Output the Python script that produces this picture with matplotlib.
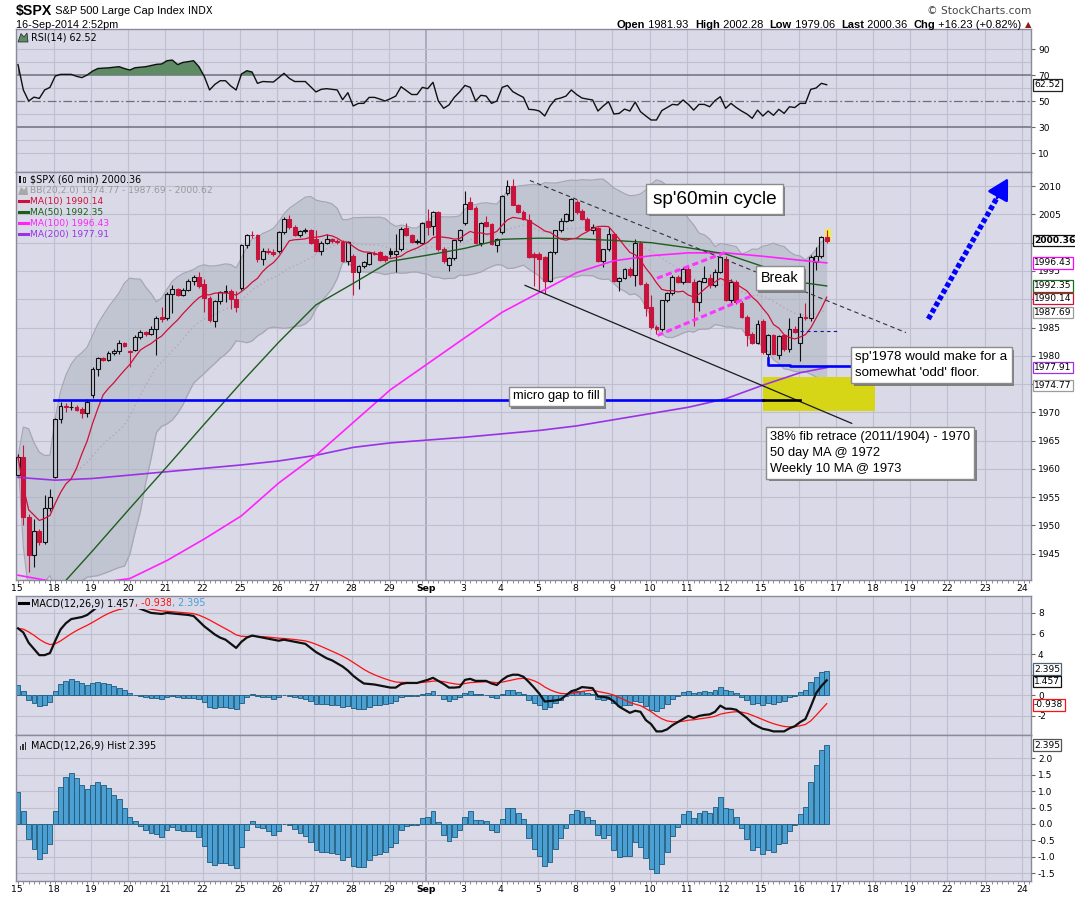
import numpy as np
import pandas as pd
import matplotlib
matplotlib.use("Agg")
import matplotlib.pyplot as plt
from matplotlib.patches import Rectangle, Polygon
from matplotlib.lines import Line2D
import matplotlib.patheffects as pe
import matplotlib.transforms as mtransforms

plt.rcParams['font.family'] = ['DejaVu Sans']

# ---------------- data (hourly bars, 7 per trading day) ----------------
day_labels = ['15', '18', '19', '20', '21', '22', '25', '26', '27', '28', '29', 'Sep',
              '3', '4', '5', '8', '9', '10', '11', '12', '15', '16', '17', '18', '19', '22', '23', '24']

opens = [1959.0, 1962.1, 1951.5, 1944.7, 1949.0, 1947.1, 1953.0,
         1958.6, 1968.9, 1971.2, 1970.9, 1971.0, 1970.6, 1969.9,
         1973.0, 1977.7, 1979.6, 1979.3, 1980.5, 1980.8, 1982.3,
         1980.9, 1981.0, 1983.3, 1984.2, 1983.9, 1984.8, 1986.8,
         1986.7, 1991.0, 1991.8, 1990.7, 1991.7, 1993.2, 1994.0,
         1992.7, 1990.2, 1986.1, 1989.6, 1991.3, 1991.5, 1990.1,
         1991.9, 1999.6, 2001.4, 2001.4, 1997.2, 1998.6, 1998.4,
         1998.6, 2001.9, 2004.2, 2002.8, 2001.4, 2002.0, 2002.3,
         2000.7, 1998.5, 2000.0, 2000.6, 2000.3, 2000.2, 1996.8,
         1997.6, 1994.8, 1995.8, 1996.2, 1998.1, 1998.3, 1997.6,
         1998.6, 1998.0, 1998.8, 2002.6, 2001.3, 2000.3, 2000.0,
         2003.9, 2003.0, 2005.4, 1998.8, 1996.0, 1997.3, 2000.4,
         2003.5, 2007.2, 2006.2, 2000.0, 2003.6, 2003.3, 1999.6,
         2001.9, 2008.8, 2010.0, 2006.7, 2005.5, 2004.1, 1998.0,
         1998.0, 1997.4, 1993.3, 1998.3, 2002.2, 2003.9, 2004.0,
         2007.2, 2005.6, 2004.2, 2002.3, 2002.6, 1996.7, 1998.8,
         2001.6, 1993.3, 1993.8, 1995.3, 1994.2, 2000.0, 1992.7,
         1988.6, 1985.1, 1984.8, 1989.8, 1991.1, 1993.9, 1993.0,
         1995.3, 1993.1, 1989.5, 1993.1, 1993.8, 1992.5, 1994.9,
         1997.1, 1989.8, 1993.0, 1989.3, 1986.9, 1983.8, 1982.3,
         1986.2, 1980.4, 1983.6, 1980.2, 1983.6, 1981.2, 1984.8,
         1982.2, 1986.9, 1986.6, 1996.6, 1997.6, 2001.0]
highs = [1962.7, 1964.2, 1952.0, 1951.2, 1949.4, 1955.3, 1956.5,
         1969.0, 1971.8, 1971.7, 1972.0, 1971.3, 1971.0, 1972.3,
         1978.0, 1979.8, 1979.8, 1980.8, 1981.2, 1982.8, 1982.5,
         1981.0, 1983.6, 1984.5, 1984.4, 1985.2, 1987.0, 1988.6,
         1991.3, 1992.5, 1992.0, 1992.0, 1993.6, 1994.2, 1994.8,
         1993.5, 1990.5, 1989.8, 1991.5, 1992.5, 1991.8, 1991.5,
         1999.8, 2001.5, 2002.0, 2001.6, 1999.0, 1999.0, 1998.8,
         2002.1, 2004.6, 2004.9, 2003.2, 2002.3, 2002.6, 2002.5,
         2002.2, 2000.3, 2001.5, 2000.9, 2000.6, 2000.4, 2000.3,
         1998.0, 1996.0, 1996.7, 1998.3, 1998.6, 1998.5, 1997.8,
         1999.0, 2001.6, 2002.8, 2003.4, 2001.5, 2000.7, 2003.6,
         2006.0, 2005.6, 2005.6, 1999.2, 1997.5, 2000.5, 2002.5,
         2009.2, 2008.0, 2006.5, 2003.6, 2004.8, 2003.4, 2000.8,
         2008.5, 2011.0, 2011.3, 2006.9, 2005.7, 2005.1, 1998.3,
         1998.3, 1997.6, 1998.6, 2002.3, 2004.4, 2005.2, 2007.9,
         2007.5, 2006.0, 2004.5, 2003.3, 2002.8, 1998.9, 2002.7,
         2001.8, 1993.9, 1995.5, 1995.7, 2000.7, 2000.3, 1993.0,
         1990.8, 1985.5, 1989.9, 1991.2, 1994.2, 1994.3, 1995.7,
         1995.8, 1993.5, 1993.4, 1995.8, 1994.5, 1995.3, 1997.7,
         1997.6, 1993.5, 1993.4, 1989.6, 1987.2, 1984.2, 1986.4,
         1986.5, 1983.8, 1983.9, 1983.7, 1983.9, 1986.6, 1985.2,
         1987.5, 1989.3, 1997.8, 1999.3, 2001.2, 2002.28]
lows = [1958.7, 1950.0, 1941.7, 1942.7, 1946.5, 1946.8, 1952.5,
        1958.3, 1968.2, 1970.0, 1970.5, 1970.2, 1969.0, 1969.2,
        1972.5, 1976.5, 1979.0, 1979.1, 1980.2, 1980.4, 1981.5,
        1978.0, 1980.8, 1983.0, 1983.5, 1983.7, 1980.1, 1986.0,
        1986.4, 1987.5, 1990.5, 1990.5, 1991.5, 1992.5, 1992.0,
        1987.7, 1986.0, 1985.1, 1989.2, 1989.5, 1988.3, 1987.7,
        1991.7, 1999.0, 2000.8, 1996.5, 1996.0, 1998.0, 1997.7,
        1998.2, 2001.5, 2002.5, 2001.2, 2001.0, 2001.7, 1999.8,
        1998.3, 1997.8, 1999.8, 2000.0, 1999.8, 1996.6, 1996.0,
        1990.7, 1991.8, 1995.5, 1996.0, 1997.8, 1996.8, 1996.6,
        1997.5, 1994.8, 1998.5, 2001.2, 2000.0, 1999.8, 1999.8,
        2001.3, 2001.3, 1998.6, 1996.4, 1995.0, 1997.0, 2000.1,
        2003.2, 2006.0, 1999.8, 1999.5, 2002.8, 1999.6, 1998.4,
        2001.5, 2008.4, 2006.6, 2005.2, 2004.0, 1997.3, 1992.4,
        1991.6, 1991.0, 1993.0, 1998.0, 2001.9, 2003.6, 2003.8,
        2005.1, 2004.1, 2002.1, 2001.6, 1996.5, 1995.7, 1998.5,
        1993.0, 1991.5, 1993.5, 1993.9, 1992.4, 1992.5, 1987.1,
        1984.8, 1983.9, 1984.3, 1989.5, 1990.8, 1992.8, 1992.7,
        1993.0, 1985.2, 1988.0, 1993.0, 1991.9, 1992.2, 1994.7,
        1989.6, 1989.3, 1989.2, 1986.6, 1981.8, 1982.0, 1982.0,
        1980.4, 1979.5, 1980.3, 1979.4, 1980.9, 1980.6, 1984.0,
        1979.06, 1986.3, 1986.2, 1995.2, 1997.3, 2000.0]
closes = [1962.1, 1951.5, 1944.7, 1949.0, 1947.1, 1953.0, 1955.0,
          1968.9, 1971.2, 1970.9, 1971.0, 1970.5, 1969.9, 1971.9,
          1977.7, 1979.6, 1979.3, 1980.5, 1980.8, 1982.3, 1981.8,
          1980.6, 1983.3, 1984.2, 1983.9, 1984.8, 1986.7, 1986.5,
          1990.9, 1991.8, 1990.7, 1991.7, 1993.2, 1994.0, 1992.4,
          1990.2, 1986.3, 1989.6, 1991.3, 1991.5, 1990.1, 1988.6,
          1999.6, 2001.4, 2001.3, 1997.2, 1998.6, 1998.4, 1998.0,
          2001.9, 2004.2, 2002.8, 2001.4, 2002.0, 2002.3, 2000.0,
          1998.5, 2000.0, 2000.6, 2000.3, 2000.1, 1996.8, 2000.1,
          1994.8, 1995.8, 1996.6, 1998.1, 1998.0, 1997.0, 1996.9,
          1998.0, 1998.6, 2002.5, 2001.3, 2000.1, 2000.1, 2003.4,
          2002.7, 2005.4, 1998.8, 1996.8, 1997.3, 2000.4, 2002.3,
          2006.9, 2006.0, 2000.0, 2003.5, 2003.0, 1999.8, 2000.7,
          2008.2, 2010.0, 2006.7, 2005.5, 2004.2, 1997.5, 1997.4,
          1997.2, 1993.3, 1998.3, 2002.2, 2003.9, 2005.1, 2007.7,
          2005.4, 2004.2, 2002.2, 2002.8, 1996.7, 1998.8, 2001.6,
          1993.3, 1993.8, 1995.3, 1994.2, 2000.0, 1992.7, 1988.4,
          1985.1, 1984.8, 1989.8, 1991.1, 1993.9, 1993.0, 1995.4,
          1993.1, 1989.5, 1993.3, 1993.8, 1992.5, 1994.9, 1997.5,
          1989.8, 1993.0, 1989.5, 1986.9, 1983.6, 1982.3, 1985.6,
          1980.6, 1983.6, 1980.4, 1983.5, 1981.2, 1984.8, 1984.2,
          1986.9, 1986.6, 1997.5, 1997.6, 2001.0, 2000.36]

rsi14 = [78, 58.5, 50, 53, 52, 58.5, 60.5,
         69.2, 70.5, 70.5, 70.5, 69, 68, 70,
         73, 75, 75.3, 75.5, 76, 76.4, 75,
         73.8, 75.6, 76, 76.4, 77.3, 78.2, 78.5,
         81, 81.5, 78, 79.7, 80.3, 81, 76.4,
         69, 58.5, 62.8, 65.6, 65.6, 61.5, 58.5,
         70.8, 73.3, 72.3, 63.6, 65, 64.8, 64.6,
         68, 71.3, 67.4, 65, 65, 65, 61,
         57, 59, 59.5, 59, 58.5, 51, 56.4,
         46.2, 48.2, 48.2, 52.8, 52.8, 51.5, 50,
         51.8, 53.8, 61, 58, 55, 55, 60.5,
         59.5, 64.4, 50, 44.4, 47, 52.8, 57,
         62, 60.5, 50, 54.4, 53.8, 48.2, 50,
         60.5, 62, 57.2, 54.9, 52.8, 43.6, 43.3,
         42.3, 38.5, 46.2, 51.3, 52.3, 53.8, 58.5,
         55, 52.3, 51.5, 50.8, 42.3, 46.2, 49.5,
         40, 40.5, 43.8, 42.3, 49.2, 41.8, 38.5,
         35.4, 35.4, 42.6, 45, 47.4, 47, 50.8,
         47.4, 43, 47.4, 47.4, 45.6, 50.3, 53.3,
         44.4, 48.2, 45, 42.3, 40, 36.7, 43,
         38.5, 42.3, 39, 43.6, 40.5, 45.6, 45,
         48.2, 48.2, 59, 60, 63.6, 62.52]

macd_line = [6.5, 6.1, 5.1, 4.5, 3.9, 3.9, 4.1,
             5.3, 6.4, 7.0, 7.4, 7.5, 7.6, 7.8,
             8.2, 8.6, 8.9, 9.0, 9.0, 9.0, 8.9,
             8.75, 8.6, 8.4, 8.2, 8.0, 7.95, 7.9,
             8.0, 7.95, 7.9, 7.85, 7.8, 7.7, 7.2,
             6.7, 6.3, 5.9, 5.6, 5.4, 5.0, 4.6,
             5.2, 5.6, 5.8, 5.7, 5.6, 5.5, 5.4,
             5.3, 5.4, 5.3, 5.2, 5.1, 5.0, 4.6,
             4.2, 3.9, 3.6, 3.4, 3.1, 2.8, 2.4,
             1.9, 1.5, 1.15, 1.1, 1.05, 0.95, 0.85,
             0.75, 0.75, 1.1, 1.2, 1.2, 1.2, 1.35,
             1.5, 1.7, 1.4, 1.1, 0.75, 0.75, 0.8,
             1.5, 1.6, 1.4, 1.4, 1.4, 1.15, 1.0,
             1.5, 1.85, 2.0, 2.0, 1.8, 1.3, 0.75,
             0.15, -0.6, -0.55, -0.5, -0.4, 0.0, 0.4,
             0.55, 0.8, 0.75, 0.7, -0.1, -0.15, -0.25,
             -0.6, -1.1, -1.4, -1.7, -1.5, -1.6, -2.4,
             -2.8, -3.5, -3.5, -3.3, -2.9, -2.6, -2.3,
             -2.0, -2.2, -2.0, -1.9, -1.85, -1.6, -1.0,
             -1.3, -1.3, -1.4, -1.8, -2.2, -2.7, -3.0,
             -3.25, -3.35, -3.5, -3.5, -3.5, -3.2, -3.0,
             -2.6, -2.3, -1.1, 0.2, 0.9, 1.457]

macd_hist = [0.96, 0.39, -0.46, -0.77, -1.07, -0.89, -0.62,
             0.39, 1.11, 1.43, 1.54, 1.41, 1.17, 1.05,
             1.17, 1.26, 1.17, 1.08, 0.87, 0.75, 0.5,
             0.2, 0.08, -0.05, -0.18, -0.28, -0.3, -0.38,
             -0.18, -0.1, -0.18, -0.22, -0.22, -0.22, -0.38,
             -0.67, -1.15, -1.24, -1.17, -1.17, -1.23, -1.33,
             -0.71, -0.18, 0.09, -0.08, -0.13, -0.21, -0.33,
             -0.21, -0.01, -0.03, -0.15, -0.28, -0.36, -0.55,
             -0.8, -0.85, -0.85, -0.89, -0.91, -1.09, -1.01,
             -1.27, -1.31, -1.31, -1.09, -0.95, -0.91, -0.84,
             -0.71, -0.57, -0.18, -0.05, -0.03, -0.03, 0.17,
             0.2, 0.38, 0.05, -0.34, -0.53, -0.4, -0.17,
             0.22, 0.38, 0.12, 0.12, 0.08, -0.17, -0.24,
             0.14, 0.5, 0.5, 0.34, 0.14, -0.43, -0.76,
             -0.98, -1.28, -1.15, -0.75, -0.42, -0.11, 0.3,
             0.42, 0.39, 0.21, 0.12, -0.33, -0.43, -0.33,
             -0.78, -0.99, -0.96, -0.96, -0.54, -0.69, -1.02,
             -1.38, -1.5, -1.2, -0.84, -0.36, -0.08, 0.3,
             0.39, 0.18, 0.33, 0.39, 0.33, 0.51, 0.81,
             0.48, 0.45, 0.21, -0.12, -0.47, -0.8, -0.7,
             -0.9, -0.78, -0.85, -0.61, -0.57, -0.2, -0.02,
             0.3, 0.51, 1.27, 1.8, 2.24, 2.395]

# long moving averages (one reading per trading-day start + last bar)
ma_bars = [0, 7, 14, 21, 28, 35, 42, 49, 56, 63, 70, 77, 84, 91, 98, 105, 112, 119, 126, 133, 140, 147, 152]
ma50 = [1931.0, 1938.2, 1945.5, 1953.0, 1960.4, 1967.9, 1975.3, 1982.4, 1989.0, 1992.8, 1996.7, 1997.8,
        1999.0, 2000.6, 2000.8, 2000.7, 2000.4, 2000.0, 1999.1, 1998.0, 1995.8, 1993.0, 1992.35]
ma100 = [1941.2, 1940.0, 1939.7, 1940.6, 1943.8, 1947.6, 1951.7, 1957.5, 1962.4, 1968.2, 1974.0, 1978.6,
         1983.2, 1987.7, 1991.2, 1994.7, 1996.8, 1997.7, 1998.2, 1998.2, 1997.6, 1996.9, 1996.43]
ma200 = [1958.5, 1958.0, 1958.3, 1958.9, 1959.5, 1960.1, 1960.7, 1961.4, 1962.4, 1963.8, 1964.6, 1965.1,
         1965.6, 1966.2, 1966.8, 1967.6, 1968.7, 1969.8, 1970.9, 1972.4, 1974.8, 1977.0, 1977.91]

# ---------------- figure / layout ----------------
W, H, DPI = 1075, 897, 100
fig = plt.figure(figsize=(W / DPI, H / DPI), dpi=DPI)
fig.patch.set_facecolor('white')


def frame(l, t, r, b):
    return [l / W, 1 - b / H, (r - l) / W, (b - t) / H]


BG = '#d9d9e7'
GRID = '#bfbfcf'
SPINE = '#8a8a9c'
RED = '#c8143c'
BLK = '#101010'
HISTC = '#4b9fd3'
HISTE = '#1d5a7a'

ax_r = fig.add_axes(frame(16, 29, 1031, 172))
ax_p = fig.add_axes(frame(16, 172, 1031, 580))
ax_m = fig.add_axes(frame(16, 596, 1031, 735))
ax_h = fig.add_axes(frame(16, 735, 1031, 881))

n = len(closes)
x = np.arange(n)
XL = (-0.38, 190.4)
day_pos = np.arange(len(day_labels)) * 7 - 0.3

for ax in (ax_r, ax_p, ax_m, ax_h):
    ax.set_facecolor(BG)
    ax.set_xlim(*XL)
    for s in ax.spines.values():
        s.set_color(SPINE)
        s.set_linewidth(1.0)
    for i, dp in enumerate(day_pos):
        month = day_labels[i] == 'Sep'
        ax.axvline(dp, color='#a4a4b6' if month else GRID, lw=1.2 if month else 0.8, zorder=0)
    ax.yaxis.tick_right()
    ax.tick_params(axis='y', which='major', labelsize=6.5, length=3, width=0.8,
                   color='#666670', pad=2, labelcolor='black')
    ax.set_xticks(day_pos)
    ax.set_xticks(np.arange(0, 191), minor=True)
    ax.tick_params(axis='x', which='major', length=0, pad=3, labelsize=6.7)
    ax.tick_params(axis='x', which='minor', length=2.2, width=0.6, color='#777780')

for ax in (ax_p, ax_h):
    ax.set_xticklabels(day_labels)
    for lab in ax.get_xticklabels():
        if lab.get_text() == 'Sep':
            lab.set_fontweight('bold')
for ax in (ax_r, ax_m):
    ax.tick_params(axis='x', which='both', length=0, labelbottom=False)

# ---------------- RSI panel ----------------
rsi = np.array(rsi14)
ax_r.set_ylim(-4.6, 105.4)
for g in (10, 20, 40, 60, 80, 90):
    ax_r.axhline(g, color=GRID, lw=0.8, zorder=0)
ax_r.axhline(70, color='#6e6e80', lw=1.1, zorder=1)
ax_r.axhline(30, color='#6e6e80', lw=1.1, zorder=1)
ax_r.axhline(50, color='#6e6e80', lw=0.9, ls=(0, (7, 2, 1.5, 2)), zorder=1)
ax_r.fill_between(x, 70, rsi, where=rsi >= 70, interpolate=True, color='#5e8a64', zorder=2, lw=0)
ax_r.plot(x, rsi, color=BLK, lw=1.0, zorder=3)
ax_r.set_yticks([10, 30, 50, 70, 90])

# ---------------- price panel ----------------
ax_p.set_ylim(1940.35, 2012.5)
price_ticks = np.arange(1945, 2011, 5)
for g in price_ticks:
    ax_p.axhline(g, color=GRID, lw=0.8, zorder=0)
ax_p.set_yticks(price_ticks)
# labels that the value tags cover in the reference are left blank
ax_p.set_yticklabels(['' if v in (2000, 1990, 1975) else str(v) for v in price_ticks])

cs = pd.Series(closes, dtype=float)
ma10 = cs.rolling(10, min_periods=1).mean()
mid20 = cs.rolling(20, min_periods=1).mean()
sd20 = cs.rolling(20, min_periods=1).std(ddof=0).fillna(0)
bb_up = mid20 + 2 * sd20
bb_lo = mid20 - 2 * sd20

ax_p.fill_between(x, bb_lo, bb_up, color='#aeb6c2', alpha=0.55, lw=0, zorder=1)
ax_p.plot(x, bb_up, color='#a6a6b4', lw=0.9, zorder=1.2)
ax_p.plot(x, bb_lo, color='#a6a6b4', lw=0.9, zorder=1.2)
ax_p.plot(x, mid20, color='#b9a4b9', lw=1.0, ls=(0, (1, 2)), zorder=1.3)

# yellow target zone
ax_p.add_patch(Rectangle((140.1, 1970.3), 21.0, 5.87, facecolor='#d6d616', edgecolor='none', zorder=1.5))
# highlight behind last bar
ax_p.add_patch(Rectangle((151.6, 2000.1), 1.2, 2.4, facecolor='#f2ee3a', edgecolor='none', zorder=3.5))

# candles
prev_close = [opens[0]] + closes[:-1]
for i in range(n):
    o, h, l, c = opens[i], highs[i], lows[i], closes[i]
    col = RED if c < prev_close[i] else BLK
    top, bot = max(o, c), min(o, c)
    ax_p.plot([i, i], [top, h], color=col, lw=0.8, zorder=4, solid_capstyle='butt')
    ax_p.plot([i, i], [l, bot], color=col, lw=0.8, zorder=4, solid_capstyle='butt')
    ax_p.add_patch(Rectangle((i - 0.36, bot), 0.72, max(top - bot, 0.07),
                             facecolor=col if c < o else 'none', edgecolor=col, lw=0.8, zorder=4))

# moving averages
ax_p.plot(ma_bars, ma200, color='#9a32e6', lw=1.2, zorder=5)
ax_p.plot(ma_bars, ma100, color='#ff22ff', lw=1.2, zorder=5)
ax_p.plot(ma_bars, ma50, color='#1d5e1d', lw=1.0, zorder=5)
ax_p.plot(x, ma10, color='#d0103a', lw=0.9, zorder=5)

# hand-drawn annotations (data units: bar index, price)
ax_p.plot([96.2, 166.9], [2011.0, 1984.1], color='#333333', lw=0.8, ls=(0, (4, 3)), zorder=6)
ax_p.plot([95.3, 156.7], [1992.45, 1968.05], color='#1a1a1a', lw=0.9, zorder=6)
ax_p.plot([120.1, 133.0], [1993.7, 1998.3], color='#ff33ff', lw=2.2, ls=(0, (2, 1.1)), zorder=6)
ax_p.plot([120.2, 138.2], [1983.6, 1990.7], color='#ff33ff', lw=2.2, ls=(0, (2, 1.1)), zorder=6)
ax_p.plot([147.0, 154.5], [1984.3, 1984.3], color='#1515a0', lw=0.8, ls=(0, (3, 3)), zorder=6)
ax_p.plot([141.0, 141.0, 145.1, 145.1, 156.7], [1979.6, 1978.45, 1978.45, 1978.2, 1978.2],
          color='#0000ff', lw=1.9, zorder=6)
ax_p.plot([6.77, 140.1], [1972.2, 1972.2], color='#0000ff', lw=1.9, zorder=6)
ax_p.plot([140.1, 147.0], [1972.2, 1972.2], color='#000000', lw=1.9, zorder=6)
ax_p.plot([171.1, 184.6], [1986.5, 2008.9], color='#0000ff', lw=3.8, ls=(0, (0.9, 0.5)),
          dash_capstyle='butt', zorder=7)
ax_p.annotate('', xy=(186.1, 2011.4), xytext=(184.0, 2007.9),
              arrowprops=dict(arrowstyle='-|>,head_length=0.9,head_width=0.5', color='#0000ff',
                              lw=2, mutation_scale=14, shrinkA=0, shrinkB=0), zorder=7)


def note(xb, yp, s, fs, ha='center', va='center', ls=1.3, pad=0.35):
    t = ax_p.text(xb, yp, s, ha=ha, va=va, fontsize=fs, family='Liberation Sans', color='black',
                  linespacing=ls, zorder=10,
                  bbox=dict(boxstyle='square,pad=%s' % pad, fc='white', ec='#8c8c8c', lw=1))
    t.get_bbox_patch().set_path_effects([pe.withSimplePatchShadow(offset=(1.6, -1.6),
                                                                  shadow_rgbFace='#777777', alpha=0.9)])
    return t


note(130.9, 2007.7, "sp'60min cycle", 13.7, pad=0.33)
note(143.2, 1993.7, "Break", 10.3, pad=0.35)
note(101.2, 1972.8, "micro gap to fill", 9.3, pad=0.3)
note(157.4, 1978.3, "sp'1978 would make for a\nsomewhat 'odd' floor.", 9.6, ha='left', ls=1.45, pad=0.3)
note(141.4, 1962.75, "38% fib retrace (2011/1904) - 1970\n50 day MA @ 1972\nWeekly 10 MA @ 1973", 9.3,
     ha='left', ls=1.45, pad=0.3)

# ---------------- MACD panel ----------------
mline = pd.Series(macd_line, dtype=float)
signal = mline.ewm(span=9, adjust=False).mean()
ax_m.set_ylim(-3.85, 9.64)
macd_ticks = [-2, 0, 2, 4, 6, 8]
for g in macd_ticks:
    ax_m.axhline(g, color=GRID, lw=0.8, zorder=0)
ax_m.set_yticks(macd_ticks)
ax_m.set_yticklabels(['' if v == 2 else str(v) for v in macd_ticks])
ax_m.bar(x, macd_hist, width=0.92, color=HISTC, edgecolor=HISTE, lw=0.6, zorder=2)
ax_m.plot(x, signal, color='#ff1010', lw=0.9, zorder=3)
ax_m.plot(x, mline, color=BLK, lw=1.6, zorder=4)

# ---------------- MACD histogram panel ----------------
ax_h.set_ylim(-1.73, 2.70)
hticks = np.arange(-1.5, 2.01, 0.5)
for g in hticks:
    ax_h.axhline(g, color=GRID, lw=0.8, zorder=0)
ax_h.set_yticks(hticks)
ax_h.set_yticklabels(['%.1f' % v for v in hticks])
ax_h.bar(x, macd_hist, width=0.92, color=HISTC, edgecolor=HISTE, lw=0.6, zorder=2)


# ---------------- right-edge value tags ----------------
def tag(ax, yv, s, ec, bold=False):
    tr = mtransforms.blended_transform_factory(ax.transAxes, ax.transData)
    ax.text(1.003, yv, s, transform=tr, ha='left', va='center', fontsize=6.6,
            fontweight='bold' if bold else 'normal', color='black', zorder=20, clip_on=False,
            bbox=dict(boxstyle='square,pad=0.14', fc='white', ec=ec, lw=0.9))


tag(ax_r, 62.52, '62.52', '#222222')
tag(ax_p, 2000.36, '2000.36', '#111111', bold=True)
tag(ax_p, 1996.43, '1996.43', '#ff00ff')
tag(ax_p, 1992.35, '1992.35', '#1d6e1d')
tag(ax_p, 1990.14, '1990.14', '#d0103a')
tag(ax_p, 1987.69, '1987.69', '#9c9c9c')
tag(ax_p, 1977.91, '1977.91', '#9a32e6')
tag(ax_p, 1974.77, '1974.77', '#9c9c9c')
tag(ax_m, 2.55, '2.395', '#4a6478')
tag(ax_m, 1.35, '1.457', '#111111')
tag(ax_m, -0.938, '-0.938', '#ff1010')
tag(ax_h, 2.395, '2.395', '#555555')

# ---------------- header and legends ----------------
renderer = fig.canvas.get_renderer()


def chain(x_px, y_px, parts, align='left', bg=None):
    objs, widths = [], []
    for s, kw in parts:
        extra = {}
        if bg is not None:
            extra['bbox'] = dict(boxstyle='square,pad=0.05', fc=bg, ec='none')
        t = fig.text(0, 1 - y_px / H, s, ha='left', va='center', **kw, **extra)
        objs.append(t)
        widths.append(t.get_window_extent(renderer=renderer).width)
    cur = x_px - sum(widths) if align == 'right' else x_px
    for t, w in zip(objs, widths):
        t.set_x(cur / W)
        cur += w
    return objs


LS = 'Liberation Sans'
chain(16, 11.5, [('$SPX', dict(fontsize=10.2, fontweight='bold', family=LS)),
                 (' S&P 500 Large Cap Index ', dict(fontsize=8.0, family=LS)),
                 ('INDX', dict(fontsize=7.0, family='DejaVu Sans'))])
fig.text(16 / W, 1 - 24.8 / H, '16-Sep-2014 2:52pm', fontsize=7.8, family=LS, ha='left', va='center')
fig.text(1031 / W, 1 - 11 / H, '\u00a9 StockCharts.com', fontsize=7.6, family='DejaVu Sans',
         ha='right', va='center', color='#444444')
B = dict(fontsize=8.0, fontweight='bold', family=LS)
N = dict(fontsize=8.0, family=LS)
chain(1031, 24.6, [('Open', B), (' 1981.93  ', N), ('High', B), (' 2002.28  ', N),
                   ('Low', B), (' 1979.06  ', N), ('Last', B), (' 2000.36  ', N),
                   ('Chg', B), (' +16.23 (+0.82%) ', N),
                   ('\u25b2', dict(fontsize=6, color='#8b1a1a', family='DejaVu Sans'))], align='right')

LF = 6.6
# price panel legend
fig.add_artist(Rectangle((19 / W, 1 - 183.5 / H), 2.2 / W, 7 / H, fc='#111111', ec='none'))
fig.add_artist(Rectangle((23 / W, 1 - 182 / H), 2.2 / W, 5 / H, fc='none', ec='#111111', lw=0.6))
chain(29.7, 179.3, [('$SPX (60 min) 2000.36', dict(fontsize=LF + 0.3, color='black'))])
fig.add_artist(Polygon([[18 / W, 1 - 195 / H], [21 / W, 1 - 187 / H], [24 / W, 1 - 190 / H],
                        [27 / W, 1 - 186 / H], [28 / W, 1 - 195 / H]], closed=True, fc='#a8a8a8', ec='none'))
chain(29.7, 190.3, [('BB(20,2.0) 1974.77 - 1987.69 - 2000.62', dict(fontsize=LF, color='#9a9a9a'))])
for yy, col, txt in ((201.3, '#d0103a', 'MA(10) 1990.14'), (212.3, '#1d5e1d', 'MA(50) 1992.35'),
                     (223.3, '#ff22ff', 'MA(100) 1996.43'), (234.3, '#9a32e6', 'MA(200) 1977.91')):
    fig.add_artist(Line2D([19 / W, 27.5 / W], [1 - yy / H] * 2, color=col, lw=2.2))
    chain(29.7, yy, [(txt, dict(fontsize=LF, color=col))])

# RSI legend
fig.add_artist(Polygon([[18 / W, 1 - 42 / H], [21 / W, 1 - 33.5 / H], [24 / W, 1 - 37 / H],
                        [27 / W, 1 - 33 / H], [28 / W, 1 - 42 / H]], closed=True, fc='#5e8a64', ec='#222', lw=0.5))
chain(31, 37.5, [('RSI(14) 62.52', dict(fontsize=LF + 0.3, color='black'))])

# MACD legend
fig.add_artist(Line2D([19 / W, 27.5 / W], [1 - 603.4 / H] * 2, color='black', lw=2.2))
chain(31, 603.4, [('MACD(12,26,9) 1.457', dict(fontsize=LF + 0.3, color='black')),
                  (', -0.938', dict(fontsize=LF + 0.3, color='#ff1010')),
                  (', 2.395', dict(fontsize=LF + 0.3, color='#4b9fd3'))], bg=BG)

# histogram legend
for k, hh in enumerate((4, 6, 8)):
    fig.add_artist(Rectangle(((19.5 + 2.6 * k) / W, 1 - 749.5 / H), 1.6 / W, hh / H, fc='#333', ec='none'))
chain(31, 745.5, [('MACD(12,26,9) Hist 2.395', dict(fontsize=LF + 0.3, color='black'))])

fig.savefig('out.png', dpi=DPI, facecolor='white')
